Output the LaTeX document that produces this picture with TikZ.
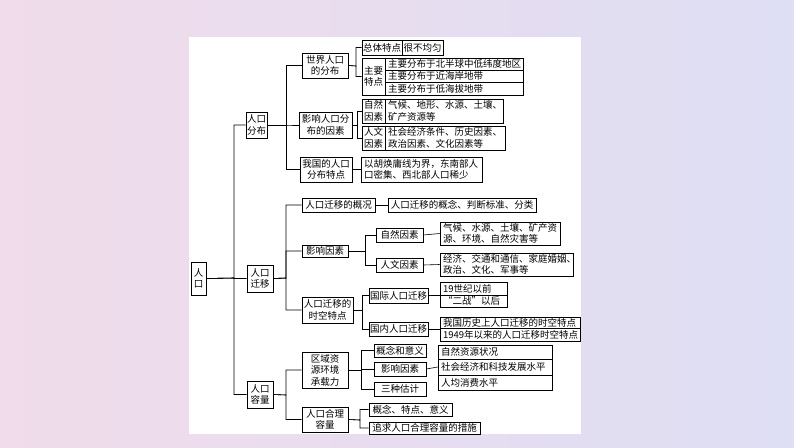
\documentclass[tikz,border=0pt]{standalone}
\usepackage{fontspec}
\setmainfont{Noto Sans CJK SC}
\begin{document}
\begin{tikzpicture}[x=1pt,y=-1pt,
  bx/.style={draw,line width=0.6pt,inner sep=1pt,font=\fontsize{9.5}{11.5}\selectfont},
  ln/.style={line width=0.6pt}]
\shade[left color={rgb,255:red,240;green,220;blue,234},right color={rgb,255:red,222;green,222;blue,244}] (0,0) rectangle (794,447);
\useasboundingbox (0,0) rectangle (794,447);
\fill[white] (189,37) rectangle (581,434);
\newcommand{\bx}[6]{\node[bx,minimum width={#4-#2},minimum height={#5-#3},align=center] (#1) at ({(#2+#4)/2},{(#3+#5)/2}) {#6};}
\newcommand{\bxl}[6]{\node[bx,minimum width={#4-#2},minimum height={#5-#3},align=left,text width={#4-#2-6}] (#1) at ({(#2+#4)/2},{(#3+#5)/2}) {#6};}
% root
\bx{root}{191}{262}{206}{295}{人\\口}
\bx{fb}{246}{112}{267}{138}{人口\\分布}
\bx{qy}{247}{265}{273}{292}{人口\\迁移}
\bx{rl}{247}{381}{273}{408}{人口\\容量}
\foreach \c in {fb,qy,rl} \draw[ln] (root.east) -- (234,278) |- (\c.west);
% distribution
\bx{sj}{302}{53}{348}{78}{世界人口\\的分布}
\bx{yx}{299}{112}{352}{138}{影响人口分\\布的因素}
\bx{wg}{300}{157}{352}{182}{我国的人口\\分布特点}
\foreach \c in {sj,yx,wg} \draw[ln] (fb.east) -- (286,125) |- (\c.west);
\bx{zt}{362}{40}{402}{55}{总体特点}
\bx{bj}{402}{40}{443}{55}{很不均匀}
\bx{zy}{362}{58}{385}{95}{主要\\特点}
\bxl{r1}{385}{58}{523}{70}{主要分布于北半球中低纬度地区}
\bxl{r2}{385}{70}{523}{82}{主要分布于近海岸地带}
\bxl{r3}{385}{82}{523}{95}{主要分布于低海拔地带}
\foreach \c in {zt,zy} \draw[ln] (sj.east) -- (356,66) |- (\c.west);
\bx{zr}{362}{99}{385}{123}{自然\\因素}
\bxl{zrt}{385}{99}{503}{123}{气候、地形、水源、土壤、\\矿产资源等}
\bx{rw}{362}{126}{385}{150}{人文\\因素}
\bxl{rwt}{385}{126}{505}{150}{社会经济条件、历史因素、\\政治因素、文化因素等}
\foreach \c in {zr,rw} \draw[ln] (yx.east) -- (357,125) |- (\c.west);
\bxl{wgt}{361}{157}{482}{182}{以胡焕庸线为界，东南部人\\口密集、西北部人口稀少}
\draw[ln] (wg.east) -- (wgt.west);
% migration
\bx{gk}{302}{198}{375}{212}{人口迁移的概况}
\bx{yy}{302}{245}{348}{257}{影响因素}
\bx{sk}{302}{297}{353}{323}{人口迁移的\\时空特点}
\foreach \c in {gk,yy,sk} \draw[ln] (qy.east) -- (286,278) |- (\c.west);
\bx{gkt}{388}{198}{536}{212}{人口迁移的概念、判断标准、分类}
\draw[ln] (gk.east) -- (gkt.west);
\bx{zr2}{376}{228}{423}{242}{自然因素}
\bx{rw2}{376}{258}{423}{272}{人文因素}
\foreach \c in {zr2,rw2} \draw[ln] (yy.east) -- (365,251) |- (\c.west);
\bxl{zr2t}{440}{222}{560}{245}{气候、水源、土壤、矿产资\\源、环境、自然灾害等}
\bxl{rw2t}{440}{253}{573}{276}{经济、交通和通信、家庭婚姻、\\政治、文化、军事等}
\draw[ln] (zr2.east) -- (zr2t.west);
\draw[ln] (rw2.east) -- (rw2t.west);
\bx{gj}{369}{288}{428}{303}{国际人口迁移}
\bx{gn}{369}{322}{428}{336}{国内人口迁移}
\foreach \c in {gj,gn} \draw[ln] (sk.east) -- (362,310) |- (\c.west);
\bxl{g1}{440}{282}{507}{295}{19世纪以前}
\bxl{g2}{440}{295}{507}{307}{“二战”以后}
\bxl{n1}{440}{317}{580}{328}{我国历史上人口迁移的时空特点}
\bxl{n2}{440}{328}{580}{341}{1949年以来的人口迁移时空特点}
\draw[ln] (gj.east) -- (gj.east -| g1.west);
\draw[ln] (gn.east) -- (gn.east -| n1.west);
% capacity
\bx{cz}{302}{352}{348}{388}{区域资\\源环境\\承载力}
\bx{hl}{302}{407}{348}{432}{人口合理\\容量}
\foreach \c in {cz,hl} \draw[ln] (rl.east) -- (286,395) |- (\c.west);
\bx{gy}{374}{344}{426}{357}{概念和意义}
\bx{yy3}{374}{362}{426}{376}{影响因素}
\bx{sz}{374}{382}{426}{396}{三种估计}
\foreach \c in {gy,yy3,sz} \draw[ln] (cz.east) -- (361,370) |- (\c.west);
\bxl{c1}{438}{345}{552}{359}{自然资源状况}
\bxl{c2}{438}{359}{552}{375}{社会经济和科技发展水平}
\bxl{c3}{438}{375}{552}{390}{人均消费水平}
\draw[ln] (yy3.east) -- (c2.west);
\bx{h1}{369}{403}{452}{416}{概念、特点、意义}
\bx{h2}{369}{422}{480}{434}{追求人口合理容量的措施}
\foreach \c in {h1,h2} \draw[ln] (hl.east) -- (360,420) |- (\c.west);
\end{tikzpicture}
\end{document}
